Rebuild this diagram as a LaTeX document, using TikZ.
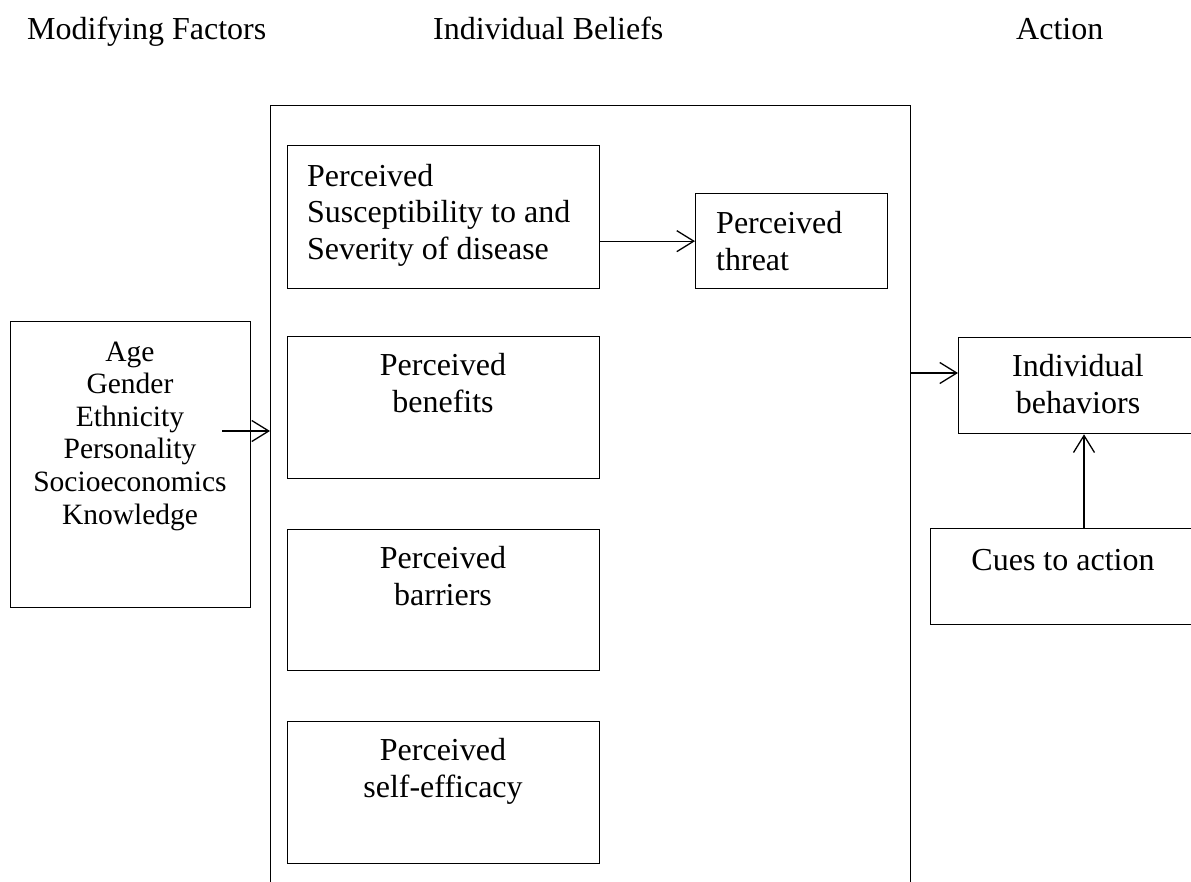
\documentclass[tikz,border=0pt]{standalone}
\usepackage{fontspec}
\setmainfont{Liberation Serif}
\usetikzlibrary{arrows.meta}
\begin{document}
\begin{tikzpicture}[x=1pt,y=-1pt,
  box/.style={draw, line width=1.3pt, rectangle, inner sep=0pt, anchor=north west},
  txt/.style={inner sep=0pt, font=\fontsize{32}{36.5}\selectfont},
  smalltxt/.style={inner sep=0pt, font=\fontsize{29.5}{32.6}\selectfont},
  arr/.style={line width=1.3pt, -{Straight Barb[length=17pt,width=21pt]}}]
\useasboundingbox (0,0) rectangle (1191,881);
\clip (0,0) rectangle (1191,881);
% headers
\node[txt, anchor=base west] (h1) at (27,39) {Modifying Factors};
\node[txt, anchor=base west] (h2) at (433,39) {Individual Beliefs};
\node[txt, anchor=base west] (h3) at (1016,39) {Action};
% boxes
\node[box, minimum width=640pt, minimum height=820pt] (big) at (270,105) {};
\node[box, minimum width=240pt, minimum height=286pt] (mod) at (10,321) {};
\node[box, minimum width=312pt, minimum height=143pt] (sus) at (287,145) {};
\node[box, minimum width=192pt, minimum height=95pt] (thr) at (695,193) {};
\node[box, minimum width=312pt, minimum height=142pt] (ben) at (287,336) {};
\node[box, minimum width=312pt, minimum height=141pt] (bar) at (287,529) {};
\node[box, minimum width=312pt, minimum height=142pt] (eff) at (287,721) {};
\node[box, minimum width=260pt, minimum height=96pt] (beh) at (958,337) {};
\node[box, minimum width=300pt, minimum height=96pt] (cue) at (930,528) {};
% texts (base anchor = baseline of last line)
\node[txt, anchor=base west, align=left] (t1) at (307,259) {Perceived\\Susceptibility to and\\Severity of disease};
\node[txt, anchor=base west, align=left] (t2) at (716,270) {Perceived\\threat};
\node[txt, anchor=base, align=center] (t3) at (443,412) {Perceived\\benefits};
\node[txt, anchor=base, align=center] (t4) at (443,605) {Perceived\\barriers};
\node[txt, anchor=base, align=center] (t5) at (443,797) {Perceived\\self-efficacy};
\node[smalltxt, anchor=base, align=center] (t6) at (130,524) {Age\\Gender\\Ethnicity\\Personality\\Socioeconomics\\Knowledge};
\node[txt, anchor=base, align=center] (t7) at (1078,413) {Individual\\behaviors};
\node[txt, anchor=base] (t8) at (1063,570) {Cues to action};
% arrows
\draw[arr] (sus.east |- thr.west) -- (thr.west);
\coordinate (m) at (222,431);
\draw[arr] (m) -- (m -| big.west);
\coordinate (n) at (0,373);
\draw[arr] (big.east |- n) -- (beh.west |- n);
\coordinate (c) at (1084,0);
\draw[arr] (cue.north -| c) -- (beh.south -| c);
\end{tikzpicture}
\end{document}
